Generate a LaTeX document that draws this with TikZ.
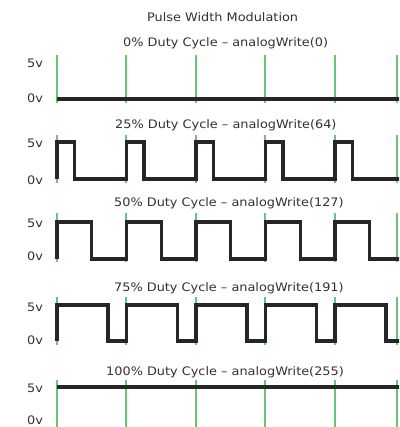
\documentclass[tikz,border=0pt]{standalone}
\usepackage{fontspec}
\setmainfont{DejaVu Sans}[FakeStretch=1.1]
\definecolor{gridgreen}{RGB}{105,196,118}
\definecolor{sig}{RGB}{38,38,38}
\definecolor{txt}{RGB}{50,50,50}
\begin{document}
\begin{tikzpicture}[x=1pt,y=-1pt,
  gridline/.style={draw=gridgreen,line width=1.2pt},
  wave/.style={draw=sig,line width=3.2pt,line join=miter,line cap=butt},
  lbl/.style={text=txt,font=\fontsize{11.7}{14}\selectfont,inner sep=0pt},
  ttl/.style={lbl,anchor=west}]
\fill[white] (0,0) rectangle (399,427);
\useasboundingbox (0,0) rectangle (399,427);
\clip (0,0) rectangle (399,427);
% title
\node[ttl] (title) at (147,17) {Pulse Width Modulation};
% subtitles
\node[ttl] (t0) at (123,43) {0\% Duty Cycle – analogWrite(0)};
\node[ttl] (t25) at (115,125) {25\% Duty Cycle – analogWrite(64)};
\node[ttl] (t50) at (114,203) {50\% Duty Cycle – analogWrite(127)};
\node[ttl] (t75) at (114,288) {75\% Duty Cycle – analogWrite(191)};
\node[ttl] (t100) at (106,372) {100\% Duty Cycle – analogWrite(255)};
% voltage labels
\foreach \n/\a/\b in {a/63/98, b/143/180, c/223/256, d/307/340, e/388/420}{
  \node[lbl] (five\n) at (35,\a) {5v};
  \node[lbl] (zero\n) at (35,\b) {0v};
}
% grid lines
\foreach \top/\bot in {55/103, 135/183, 213/262, 297/345, 380/428}{
  \foreach \x in {57,126,196,265,335,397}{
    \draw[gridline] (\x,\top) -- (\x,\bot);
  }
}
% 0%
\draw[wave] (57,99) -- (400,99);
% 25%, 50%, 75%
\foreach \hi/\lo/\w in {142/179/17.4, 222/259/34.8, 305/341/51}{
  \draw[wave] (57,\lo)
    \foreach \k in {0,...,4}{
      -- ({57+69.5*\k},\hi) -- ({57+69.5*\k+\w},\hi) -- ({57+69.5*\k+\w},\lo) -- ({57+69.5*(\k+1)},\lo)
    };
}
% 100%
\draw[wave] (57,387) -- (400,387);
\end{tikzpicture}
\end{document}
